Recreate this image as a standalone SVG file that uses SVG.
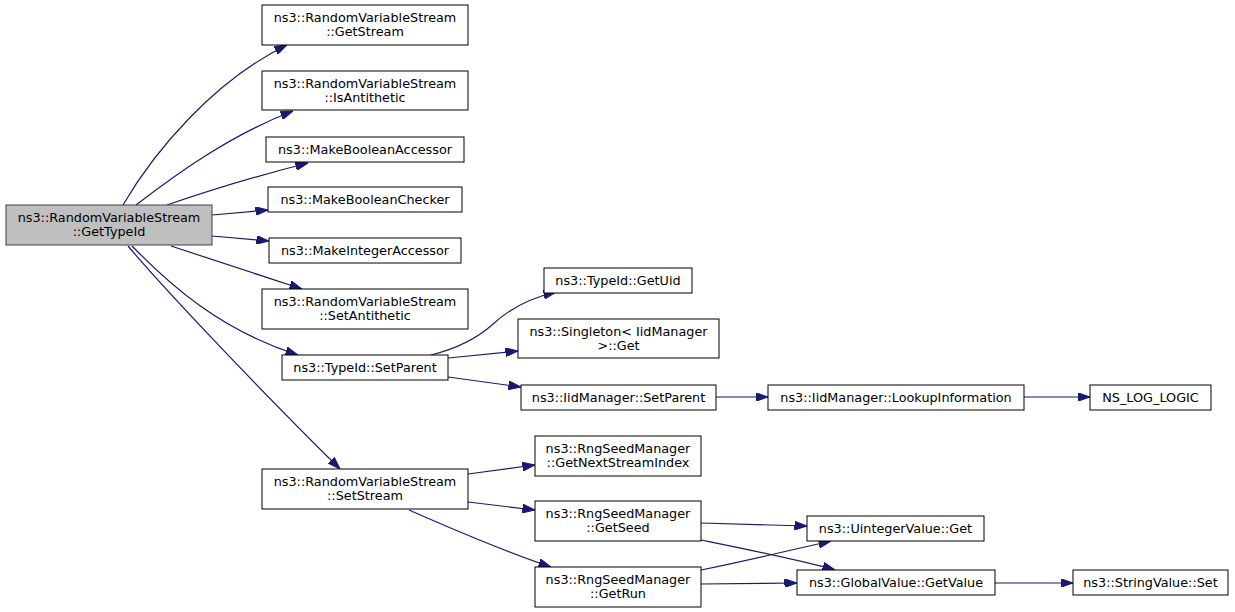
<svg xmlns="http://www.w3.org/2000/svg" width="1235" height="612" viewBox="0 0 1235 612">
<style>
.n rect{fill:#fff;stroke:#000;stroke-width:1}
.n.root rect{fill:#bfbfbf;stroke:#404040}
.n text{font-family:"DejaVu Sans",sans-serif;font-size:12.8px;fill:#000;text-anchor:middle}
.e path{fill:none;stroke:#191970;stroke-width:1.2;marker-end:url(#ah)}
</style>
<defs>
<marker id="ah" viewBox="0 0 10 7" refX="10" refY="3.5" markerWidth="12.5" markerHeight="8.75" markerUnits="userSpaceOnUse" orient="auto">
<path d="M0,0 L10,3.5 L0,7 Z" fill="#191970" stroke="#191970" stroke-width="0.8"/>
</marker>
</defs>
<rect width="1235" height="612" fill="#fff"/>
<g class="e">
<path d="M123,205 C155,150 215,80 287,45"/>
<path d="M136,205 C175,175 230,135 293,111"/>
<path d="M167,205 C205,192 260,175 308,163"/>
<path d="M212,215 L268,210"/>
<path d="M212,236 L269,241"/>
<path d="M171,246 L302,289"/>
<path d="M132,246 C170,285 220,330 298,355"/>
<path d="M128,246 C165,290 260,390 340,469"/>
<path d="M431,355 C455,349 475,340 492,325 C510,308 530,298 556,292"/>
<path d="M448,358 L518,351"/>
<path d="M448,377 L521,387"/>
<path d="M716,397 L768,397"/>
<path d="M1024,397 L1090,397"/>
<path d="M468,474 L535,465"/>
<path d="M468,502 L535,510"/>
<path d="M409,510 C450,528 500,550 551,567"/>
<path d="M701,523 L807,526"/>
<path d="M701,540 C750,550 800,560 835,570"/>
<path d="M701,570 C750,560 800,548 831,541"/>
<path d="M701,584 L797,583"/>
<path d="M995,583 L1073,583"/>
</g>
<g id="n_root" class="n root"><rect x="6" y="205" width="206" height="40"/><text x="109" y="221.5">ns3::RandomVariableStream</text><text x="109" y="236">::GetTypeId</text></g>
<g id="n_getstream" class="n"><rect x="262" y="5" width="206" height="40"/><text x="365" y="21.5">ns3::RandomVariableStream</text><text x="365" y="36">::GetStream</text></g>
<g id="n_isantithetic" class="n"><rect x="262" y="71" width="206" height="39"/><text x="365" y="87.5">ns3::RandomVariableStream</text><text x="365" y="101.5">::IsAntithetic</text></g>
<g id="n_mba" class="n"><rect x="266" y="137" width="198" height="25"/><text x="365" y="153.5">ns3::MakeBooleanAccessor</text></g>
<g id="n_mbc" class="n"><rect x="268" y="187" width="194" height="25"/><text x="365" y="203.5">ns3::MakeBooleanChecker</text></g>
<g id="n_mia" class="n"><rect x="269" y="238" width="192" height="25"/><text x="365" y="254.5">ns3::MakeIntegerAccessor</text></g>
<g id="n_setantithetic" class="n"><rect x="262" y="289" width="206" height="40"/><text x="365" y="305.5">ns3::RandomVariableStream</text><text x="365" y="320">::SetAntithetic</text></g>
<g id="n_setparent" class="n"><rect x="282" y="355" width="166" height="25"/><text x="365" y="371.5">ns3::TypeId::SetParent</text></g>
<g id="n_setstream" class="n"><rect x="262" y="469" width="206" height="40"/><text x="365" y="485.5">ns3::RandomVariableStream</text><text x="365" y="500">::SetStream</text></g>
<g id="n_getuid" class="n"><rect x="544" y="268" width="148" height="25"/><text x="618" y="284.5">ns3::TypeId::GetUid</text></g>
<g id="n_singleton" class="n"><rect x="518" y="319" width="201" height="39"/><text x="618.5" y="335.5">ns3::Singleton&lt; IidManager</text><text x="618.5" y="350">&gt;::Get</text></g>
<g id="n_iidsetparent" class="n"><rect x="521" y="385" width="195" height="25"/><text x="618.5" y="401.5">ns3::IidManager::SetParent</text></g>
<g id="n_lookup" class="n"><rect x="768" y="385" width="256" height="25"/><text x="896" y="401.5">ns3::IidManager::LookupInformation</text></g>
<g id="n_nslog" class="n"><rect x="1090" y="385" width="121" height="25"/><text x="1150.5" y="401.5">NS_LOG_LOGIC</text></g>
<g id="n_nextstream" class="n"><rect x="535" y="436" width="166" height="40"/><text x="618" y="452.5">ns3::RngSeedManager</text><text x="618" y="467">::GetNextStreamIndex</text></g>
<g id="n_getseed" class="n"><rect x="535" y="501" width="166" height="40"/><text x="618" y="517.5">ns3::RngSeedManager</text><text x="618" y="532">::GetSeed</text></g>
<g id="n_getrun" class="n"><rect x="535" y="567" width="166" height="40"/><text x="618" y="583.5">ns3::RngSeedManager</text><text x="618" y="598">::GetRun</text></g>
<g id="n_uintget" class="n"><rect x="807" y="516" width="177" height="25"/><text x="895.5" y="532.5">ns3::UintegerValue::Get</text></g>
<g id="n_globalget" class="n"><rect x="797" y="570" width="198" height="25"/><text x="896" y="586.5">ns3::GlobalValue::GetValue</text></g>
<g id="n_stringset" class="n"><rect x="1073" y="570" width="155" height="25"/><text x="1150.5" y="586.5">ns3::StringValue::Set</text></g>
</svg>
